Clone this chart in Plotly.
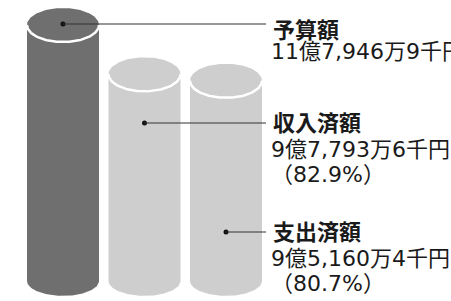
import numpy as np
import plotly.graph_objects as go

# ---- data (amounts in 億円) ----
categories = ["予算額", "収入済額", "支出済額"]
amounts_oku = [11.79469, 9.77936, 9.51604]
amount_labels = ["11億7,946万9千円", "9億7,793万6千円", "9億5,160万4千円"]
rate_labels = ["", "（82.9%）", "（80.7%）"]

# ---- styling / layout constants ----
W, H = 451, 301
PX_PER_UNIT = 24.45          # vertical pixels per 億円
BASELINE_PX = 313.4          # pixel row of value 0
Y_LO = (BASELINE_PX - H) / PX_PER_UNIT
Y_HI = BASELINE_PX / PX_PER_UNIT
BASE = 1.33                  # bottom of the cylinders (value units)
X0, DX = 63, 81.5            # category centre positions
RX = 36
RY_TOP = 17 / PX_PER_UNIT
RY_BOT = 15 / PX_PER_UNIT
body_colors = ["#6f6f6f", "#cecece", "#cecece"]

# label anchor rows (pixels) for leader lines / text
leader_rows = [24, 123, 232]
head_rows = [28, 121, 230]
value_rows = [51, 149, 258]
rate_rows = [None, 174, 283]
LINE_END = 266
HEAD_X = 271
TEXT_X = 269


def py2v(py):
    return (BASELINE_PX - py) / PX_PER_UNIT


def py2paper(py):
    return 1 - py / H


fig = go.Figure()
t = np.linspace(0, np.pi, 80)
for i, v in enumerate(amounts_oku):
    cx = X0 + i * DX
    xs = list(cx + RX * np.cos(t)) + list(cx - RX * np.cos(t))
    ys = list(v + RY_TOP * np.sin(t)) + list(BASE - RY_BOT * np.sin(t))
    fig.add_trace(go.Scatter(x=xs + [xs[0]], y=ys + [ys[0]], mode="lines",
                             fill="toself", fillcolor=body_colors[i],
                             line=dict(width=0, color=body_colors[i]),
                             hoverinfo="skip", showlegend=False))
    # white rim on the front edge of the top face
    fig.add_trace(go.Scatter(x=cx - RX * np.cos(t), y=v - RY_TOP * np.sin(t),
                             mode="lines", line=dict(color="white", width=2.5),
                             hoverinfo="skip", showlegend=False))

# leader lines and dots
for i in range(len(categories)):
    cx = X0 + i * DX
    fig.add_shape(type="line", xref="x", yref="paper",
                  x0=cx, x1=LINE_END,
                  y0=py2paper(leader_rows[i]), y1=py2paper(leader_rows[i]),
                  line=dict(color="#333333", width=1.2))
    fig.add_trace(go.Scatter(x=[cx], y=[py2v(leader_rows[i])], mode="markers",
                             marker=dict(color="#111111", size=5),
                             hoverinfo="skip", showlegend=False))

head_font = dict(family="Noto Sans CJK JP", size=22, color="#1a1a1a", weight="bold")
val_font = dict(family="DejaVu Sans, Noto Sans CJK JP", size=22, color="#1a1a1a")
for i, cat in enumerate(categories):
    fig.add_annotation(x=HEAD_X, xref="x", y=py2paper(head_rows[i]), yref="paper",
                       text=cat, showarrow=False, xanchor="left", yanchor="middle",
                       font=head_font)
    fig.add_annotation(x=TEXT_X, xref="x", y=py2paper(value_rows[i]), yref="paper",
                       text=amount_labels[i], showarrow=False, xanchor="left",
                       yanchor="middle", font=val_font)
    if rate_labels[i]:
        fig.add_annotation(x=TEXT_X, xref="x", y=py2paper(rate_rows[i]), yref="paper",
                           text=rate_labels[i], showarrow=False, xanchor="left",
                           yanchor="middle", font=val_font)

fig.update_layout(
    width=W, height=H, margin=dict(l=0, r=0, t=0, b=0),
    paper_bgcolor="white", plot_bgcolor="white",
    xaxis=dict(range=[0, W], visible=False, fixedrange=True),
    yaxis=dict(range=[Y_LO, Y_HI], visible=False, fixedrange=True),
    showlegend=False,
)
fig.write_html("out.html", config={"displayModeBar": False},
               post_script="document.body.style.margin='0';document.body.style.overflow='hidden';")
